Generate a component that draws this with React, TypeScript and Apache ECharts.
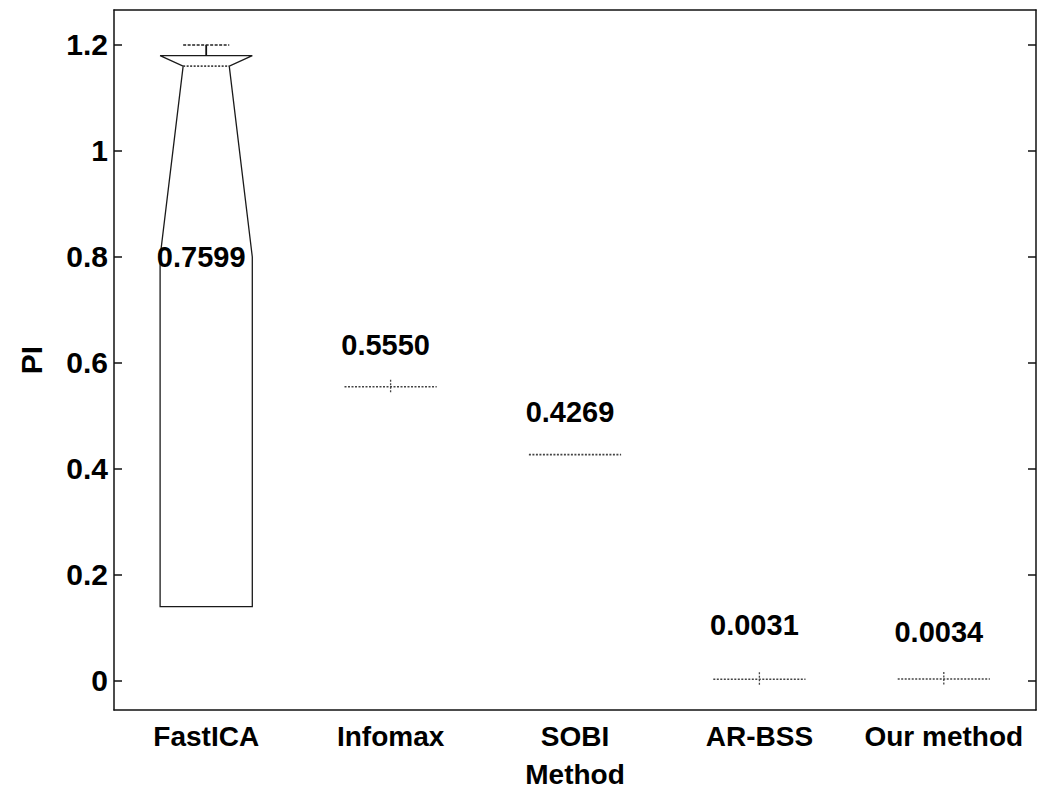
import React, { useEffect, useRef } from "react";
import * as echarts from "echarts";

const methods = ["FastICA", "Infomax", "SOBI", "AR-BSS", "Our method"];
// box statistics per method
const q1Values = [0.14, 0.555, 0.4269, 0.0031, 0.0034];
const notchLowValues = [0.8, 0.555, 0.4269, 0.0031, 0.0034];
const medianValues = [1.16, 0.555, 0.4269, 0.0031, 0.0034];
const q3Values = [1.18, 0.555, 0.4269, 0.0031, 0.0034];
const whiskerLowValues = [0.14, 0.555, 0.4269, 0.0031, 0.0034];
const whiskerHighValues = [1.2, 0.555, 0.4269, 0.0031, 0.0034];
const outlierMark = [0, 1, 0, 1, 1];
// annotated mean PI values and where their labels sit
const meanValues = [0.7599, 0.555, 0.4269, 0.0031, 0.0034];
const labelAt = [0.8, 0.634, 0.508, 0.106, 0.092];
const yTicks = [0, 0.2, 0.4, 0.6, 0.8, 1, 1.2];

const FONT = "'Liberation Sans', Arial, Helvetica, sans-serif";

export default function App() {
  const ref = useRef<HTMLDivElement>(null);
  useEffect(() => {
    if (!ref.current) return;
    const chart = echarts.init(ref.current, undefined, { renderer: "svg" });
    const boxData = methods.map((_, i) => [
      i,
      q1Values[i],
      notchLowValues[i],
      medianValues[i],
      q3Values[i],
      whiskerLowValues[i],
      whiskerHighValues[i],
      outlierMark[i],
    ]);
    const labelData = methods.map((_, i) => [i, labelAt[i], meanValues[i]]);
    const yMin = -0.055;
    const yMax = 1.266;
    const boxStroke = { stroke: "#1a1a1a", lineWidth: 1.3, fill: "none" };
    const medStroke = { stroke: "#444", lineWidth: 1.6, lineDash: [2, 1.5] };
    const axisLineStyle = { color: "#111", width: 1.5 };

    chart.setOption({
      animation: false,
      backgroundColor: "#fff",
      grid: { left: 114, right: 5, top: 10, bottom: 84, outerBoundsMode: "none", containLabel: false },
      xAxis: [
        {
          type: "category",
          data: methods,
          boundaryGap: true,
          position: "bottom",
          axisLine: { onZero: false, lineStyle: axisLineStyle },
          axisTick: { inside: true, alignWithLabel: true, length: 8, lineStyle: axisLineStyle },
          axisLabel: { interval: 0, color: "#000", fontFamily: FONT, fontWeight: "bold", fontSize: 28, margin: 12 },
          name: "Method",
          nameLocation: "middle",
          nameGap: 50,
          nameTextStyle: { color: "#000", fontFamily: FONT, fontWeight: "bold", fontSize: 28 },
          splitLine: { show: false },
        },
        {
          type: "category",
          data: methods,
          boundaryGap: true,
          position: "top",
          axisLine: { onZero: false, lineStyle: axisLineStyle },
          axisTick: { inside: true, alignWithLabel: true, length: 8, lineStyle: axisLineStyle },
          axisLabel: { show: false },
        },
      ],
      yAxis: [
        {
          type: "value",
          min: yMin,
          max: yMax,
          position: "left",
          axisLine: { show: true, onZero: false, lineStyle: axisLineStyle },
          axisTick: { show: true, inside: true, length: 8, customValues: yTicks, lineStyle: axisLineStyle },
          axisLabel: {
            color: "#000",
            fontFamily: FONT,
            fontWeight: "bold",
            fontSize: 30,
            margin: 6,
            customValues: yTicks,
            formatter: (v: number) => String(+v.toFixed(1)),
          },
          splitLine: { show: false },
          name: "PI",
          nameLocation: "middle",
          nameGap: 68,
          nameTextStyle: { color: "#000", fontFamily: FONT, fontWeight: "bold", fontSize: 30 },
        },
        {
          type: "value",
          min: yMin,
          max: yMax,
          position: "right",
          axisLine: { show: true, onZero: false, lineStyle: axisLineStyle },
          axisTick: { show: true, inside: true, length: 8, customValues: yTicks, lineStyle: axisLineStyle },
          axisLabel: { show: false },
          splitLine: { show: false },
        },
      ],
      series: [
        {
          type: "custom",
          xAxisIndex: 0,
          yAxisIndex: 0,
          data: boxData,
          renderItem: (params: any, api: any) => {
            const x = api.value(0);
            const q1 = api.value(1);
            const nLo = api.value(2);
            const med = api.value(3);
            const q3 = api.value(4);
            const wLo = api.value(5);
            const wHi = api.value(6);
            const plus = api.value(7);
            const half = api.size([1, 0])[0] * 0.25;
            const narrow = half * 0.5;
            const cx = api.coord([x, med])[0];
            const Y = (v: number) => api.coord([x, v])[1];
            const children: any[] = [];
            if (q3 > q1) {
              children.push({
                type: "polygon",
                shape: {
                  points: [
                    [cx - half, Y(q1)],
                    [cx - half, Y(nLo)],
                    [cx - narrow, Y(med)],
                    [cx - half, Y(q3)],
                    [cx + half, Y(q3)],
                    [cx + narrow, Y(med)],
                    [cx + half, Y(nLo)],
                    [cx + half, Y(q1)],
                  ],
                },
                style: boxStroke,
              });
              children.push({
                type: "line",
                shape: { x1: cx - narrow, y1: Y(med), x2: cx + narrow, y2: Y(med) },
                style: medStroke,
              });
              if (wHi > q3) {
                children.push({ type: "line", shape: { x1: cx, y1: Y(q3), x2: cx, y2: Y(wHi) }, style: { stroke: "#111", lineWidth: 1.8 } });
                children.push({ type: "line", shape: { x1: cx - narrow, y1: Y(wHi), x2: cx + narrow, y2: Y(wHi) }, style: { stroke: "#222", lineWidth: 1.5, lineDash: [3, 1.5] } });
              }
              if (wLo < q1) {
                children.push({ type: "line", shape: { x1: cx, y1: Y(q1), x2: cx, y2: Y(wLo) }, style: { stroke: "#111", lineWidth: 1.8 } });
                children.push({ type: "line", shape: { x1: cx - narrow, y1: Y(wLo), x2: cx + narrow, y2: Y(wLo) }, style: { stroke: "#222", lineWidth: 1.5 } });
              }
            } else {
              children.push({
                type: "line",
                shape: { x1: cx - half, y1: Y(med), x2: cx + half, y2: Y(med) },
                style: medStroke,
              });
            }
            if (plus) {
              children.push({
                type: "line",
                shape: { x1: cx, y1: Y(med) - 7, x2: cx, y2: Y(med) + 7 },
                style: { stroke: "#444", lineWidth: 1.3, lineDash: [2, 1.5] },
              });
            }
            return { type: "group", children };
          },
        },
        {
          type: "custom",
          xAxisIndex: 0,
          yAxisIndex: 0,
          data: labelData,
          silent: true,
          renderItem: (params: any, api: any) => {
            const p = api.coord([api.value(0), api.value(1)]);
            return {
              type: "text",
              x: p[0] - 5,
              y: p[1],
              style: {
                text: Number(api.value(2)).toFixed(4),
                fill: "#000",
                font: `bold 29px ${FONT}`,
                align: "center",
                verticalAlign: "middle",
              },
            };
          },
        },
      ],
    });
    return () => chart.dispose();
  }, []);
  return <div ref={ref} style={{ position: "fixed", left: 0, top: 0, width: 1041, height: 794 }} />;
}
